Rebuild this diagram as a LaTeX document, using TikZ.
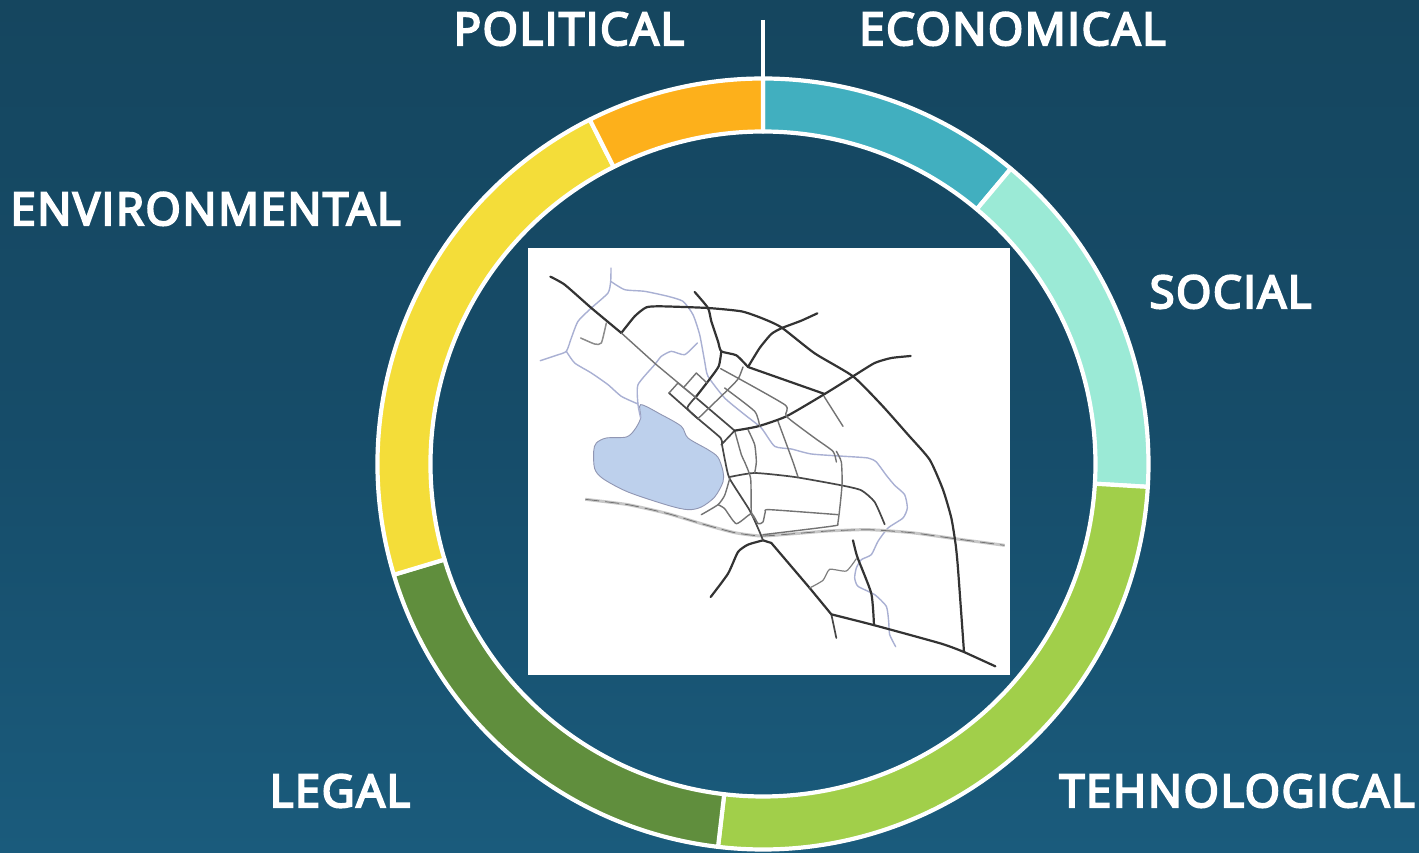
\documentclass[tikz,border=0pt]{standalone}
\usepackage{fontspec}
\setmainfont[FakeBold=5,LetterSpace=4]{Open Sans}
\definecolor{bgtop}{HTML}{15465F}
\definecolor{bgmid}{HTML}{164C69}
\definecolor{bgbot}{HTML}{1A5B7C}
\definecolor{cOrange}{HTML}{FDB01B}
\definecolor{cTeal}{HTML}{41AFBF}
\definecolor{cMint}{HTML}{9BEAD6}
\definecolor{cGreen}{HTML}{A1CF4A}
\definecolor{cDark}{HTML}{608E3D}
\definecolor{cYellow}{HTML}{F4DD39}
\definecolor{river}{HTML}{A9B0D3}
\definecolor{lake}{HTML}{BDD0EC}
\tikzset{
  lab/.style={text=white,font=\fontsize{45pt}{50pt}\selectfont,inner sep=0pt,anchor=base},
  sector/.style={draw=white,line width=4.2pt,line join=round},
  rd/.style={draw=black!80,line width=2.2pt,line cap=round,line join=round},
  rdm/.style={draw=black!72,line width=1.7pt,line cap=round,line join=round},
  rdt/.style={draw=black!55,line width=1.4pt,line cap=round,line join=round},
  rv/.style={draw=river,line width=1.4pt,line cap=round,line join=round},
}
\newcommand{\ringsector}[3]{%
  \fill[#3] (#1:385.5pt) arc[start angle=#1,end angle=#2,radius=385.5pt]
     -- (#2:332.5pt) arc[start angle=#2,end angle=#1,radius=332.5pt] -- cycle;
  \draw[sector] (#1:385.5pt) arc[start angle=#1,end angle=#2,radius=385.5pt]
     -- (#2:332.5pt) arc[start angle=#2,end angle=#1,radius=332.5pt] -- cycle;
}
\newcommand{\rt}[2]{\draw[#1] plot[smooth,tension=0.35] coordinates {#2};}
\begin{document}
\begin{tikzpicture}[x=1pt,y=1pt]
\useasboundingbox (0,0) rectangle (1419,852);
\fill[bottom color=bgbot,top color=bgtop,middle color=bgmid] (0,0) rectangle (1419,852);
% ring, centre of the ring at px (763,464)
\begin{scope}[shift={(763,388)}]
  \ringsector{50}{90}{cTeal}
  \ringsector{-3.4}{50}{cMint}
  \ringsector{-96.7}{-3.4}{cGreen}
  \ringsector{196.7}{263.3}{cDark}
  \ringsector{116.7}{196.7}{cYellow}
  \ringsector{90}{116.7}{cOrange}
\end{scope}
\coordinate (tickTop) at (763,832);
\coordinate (tickBot) at (763,775);
\draw[white,line width=3.4pt] (tickTop) -- (tickBot);
% map
\fill[white] (528,177) rectangle (1010,604);
\begin{scope}[shift={(528,604)},x=0.33333pt,y=-0.33333pt]
  % lake
  \draw[fill=lake,draw=river!85!black,line width=0.9pt] plot[smooth cycle,tension=0.5] coordinates {
    (338,470)(400,500)(460,535)(480,570)(540,605)(570,628)(585,670)(585,702)(560,747)(520,777)(480,785)(420,772)(300,732)(225,692)(200,662)(197,610)(205,585)(235,570)(295,567)(320,545)(338,510)};
  % rivers
  \rt{rv}{(249,60)(248,100)(240,135)(190,180)(150,220)(130,270)(115,310)(85,322)(37,338)}
  \rt{rv}{(248,100)(290,125)(350,130)(420,145)(465,160)(495,200)(515,260)(530,340)(540,385)(590,450)(650,500)(700,540)(740,595)(790,603)(850,618)(950,625)(1020,630)(1045,642)(1075,682)(1100,712)(1130,740)(1138,780)(1125,810)(1080,840)(1050,880)(1030,920)(1000,935)(985,960)(980,990)(990,1015)(1040,1040)(1075,1075)(1082,1120)(1085,1160)(1103,1196)}
  \rt{rv}{(115,310)(140,345)(190,375)(240,410)(280,445)(330,468)}
  \rt{rv}{(508,285)(470,320)(430,310)(400,325)(380,350)(330,410)(330,470)(338,510)}
  % railway
  \rt{draw=black!22,line width=3pt}{(172,754)(300,770)(420,797)(520,827)(620,854)(700,864)(800,857)(900,849)(1020,845)(1150,854)(1280,872)(1430,892)}
  \rt{draw=black!55,line width=0.8pt,dash pattern=on 14pt off 6pt}{(172,754)(300,770)(420,797)(520,827)(620,854)(700,864)(800,857)(900,849)(1020,845)(1150,854)(1280,872)(1430,892)}
  % main roads
  \rt{rd}{(67,86)(110,110)(190,180)(280,255)}
  \rt{rd}{(280,255)(320,205)(355,178)(400,175)(540,180)(640,190)(700,210)(760,238)(860,316)(975,385)(1060,470)(1140,560)(1205,635)(1245,725)(1270,810)(1283,890)(1290,962)(1308,1212)}
  \rt{rd}{(1308,1212)(1402,1255)}
  \draw[rd] (705,877) -- (730,885) -- (845,1020) -- (910,1099);
  \rt{rdm}{(910,1099)(925,1170)}
  \rt{rd}{(910,1099)(1040,1132)(1240,1187)(1308,1212)}
  \rt{rd}{(705,877)(660,890)(630,912)(600,977)(548,1047)}
  \rt{rd}{(975,877)(988,927)(1030,1037)(1038,1132)}
  % secondary roads
  \draw[rdt] (280,255) -- (385,350) -- (505,450);
  \draw[rdm] (505,450) -- (620,548);
  \rt{rdm}{(423,435)(510,512)(578,570)(582,590)(592,642)(605,692)(665,787)(695,852)(705,877)}
  \rt{rdm}{(605,687)(680,675)(800,687)(940,712)(1000,727)(1040,762)(1070,829)}
  \rt{rdt}{(605,692)(590,742)(570,770)(520,800)}
  \rt{rdt}{(570,770)(590,782)(625,827)(670,797)(690,827)(705,822)(712,792)(725,785)(930,800)}
  \rt{rdt}{(925,610)(940,642)(942,712)(930,822)(915,834)(705,860)}
  \rt{rdt}{(620,548)(640,620)(650,642)(668,692)(670,792)(680,812)}
  \rt{rdt}{(660,545)(680,590)(685,642)(680,675)}
  \rt{rdt}{(750,520)(795,642)(810,687)}
  \rt{rdm}{(580,590)(620,548)}
  \rt{rd}{(620,548)(690,535)(775,505)(890,438)(975,385)(1040,345)(1090,330)(1148,324)}
  \draw[rd] (660,357) -- (890,438);
  \draw[rdt] (888,445) -- (945,535);
  \rt{rd}{(660,357)(695,300)(730,258)(762,240)(820,218)(868,196)}
  \rt{rd}{(500,132)(540,180)(550,220)(570,280)(580,310)(625,322)(660,357)}
  \rt{rd}{(580,310)(572,355)(540,400)(505,445)}
  \rt{rdm}{(505,445)(478,480)(510,512)}
  \rt{rdt}{(578,362)(770,470)(775,505)(860,570)(915,610)(925,642)}
  \rt{rdt}{(645,357)(632,390)(610,415)(510,512)}
  \rt{rdt}{(590,420)(680,490)(695,535)}
  \draw[rdt] (423,435) -- (450,405) -- (505,450);
  \draw[rdt] (470,415) -- (505,375) -- (537,405);
  \rt{draw=black!45,line width=1.5pt,line cap=round}{(158,270)(200,288)(220,285)(235,225)}
  \rt{draw=black!50,line width=1.2pt,line cap=round}{(845,1020)(885,997)(905,964)(955,969)(985,932)}
\end{scope}
% labels
\node[lab] (political) at (569,807) {POLITICAL};
\node[lab] (economical) at (1012.5,807) {ECONOMICAL};
\node[lab] (environmental) at (205.5,627) {ENVIRONMENTAL};
\node[lab] (social) at (1230.5,544) {SOCIAL};
\node[lab] (legal) at (340,45) {LEGAL};
\node[lab] (tehnological) at (1237,45) {TEHNOLOGICAL};
\end{tikzpicture}
\end{document}
